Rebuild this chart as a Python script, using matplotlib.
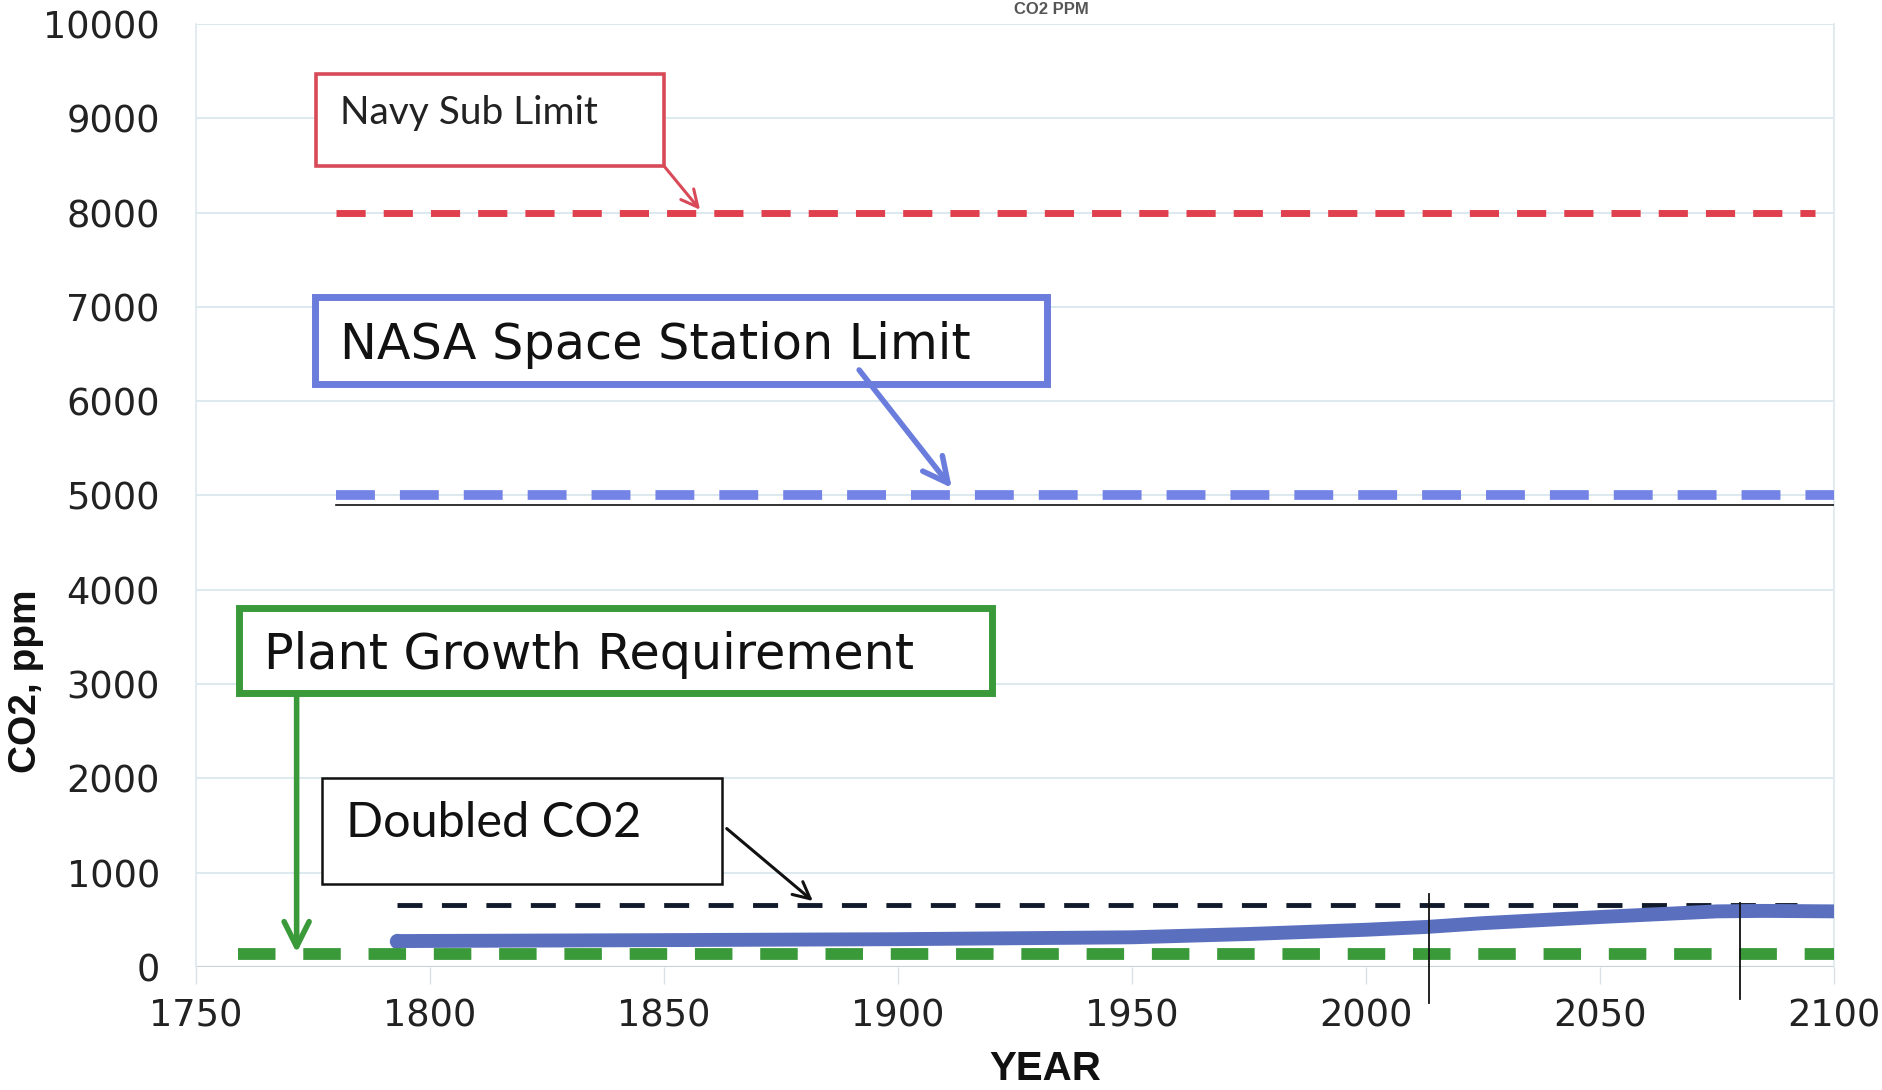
import matplotlib
matplotlib.use("Agg")
import matplotlib.pyplot as plt
from matplotlib.patches import Rectangle

plt.rcParams['lines.scale_dashes'] = False

# ---- data ----
years_co2 = [1793, 1850, 1900, 1925, 1950, 1975, 2000, 2013, 2025, 2050, 2075, 2085, 2100]
co2_ppm = [275, 285, 295, 305, 315, 350, 395, 425, 465, 530, 590, 595, 590]

navy_limit = 8000
navy_span = [1780, 2096]
nasa_limit = 5000
nasa_span = [1780, 2100]
nasa_thin = 4900
plant_req = 140
plant_span = [1759, 2100]
doubled = 660
doubled_span = [1793, 2092]
marker_years = [2013.5, 2080]

x_ticks = [1750, 1800, 1850, 1900, 1950, 2000, 2050, 2100]
y_ticks = [0, 1000, 2000, 3000, 4000, 5000, 6000, 7000, 8000, 9000, 10000]

W, H = 1883, 1090
fig = plt.figure(figsize=(W / 100, H / 100), dpi=100)
ax = fig.add_axes([196 / W, 1 - 967 / H, (1834 - 196) / W, (967 - 24) / H])
ax.set_xlim(1750, 2100)
ax.set_ylim(0, 10000)

grid_c = '#d6e6ec'
for v in y_ticks[1:]:
    ax.axhline(v, color=grid_c, lw=1.2, zorder=0)
ax.axhline(0, color='#c8d0d4', lw=1.5, zorder=0)
for s in ['top', 'bottom']:
    ax.spines[s].set_visible(False)
for s in ['left', 'right']:
    ax.spines[s].set_color('#dde9ee')
    ax.spines[s].set_linewidth(1.2)

ax.set_xticks(x_ticks)
ax.set_yticks(y_ticks)
ax.tick_params(axis='y', length=0, pad=26, labelsize=26.5, labelcolor='#222222')
ax.tick_params(axis='x', length=12, width=1, color='#d8e2e6', pad=10, labelsize=26.5, labelcolor='#222222')
for lab in ax.get_xticklabels() + ax.get_yticklabels():
    lab.set_family('DejaVu Sans')

# ---- lines ----
ax.plot(navy_span, [navy_limit] * 2, color='#e0404e', lw=5, dashes=(21, 13), dash_capstyle='butt', zorder=3)
ax.plot(nasa_span, [nasa_thin] * 2, color='#111111', lw=1.2, zorder=3)
ax.plot(nasa_span, [nasa_limit] * 2, color='#7483e6', lw=7, dashes=(28, 18), dash_capstyle='butt', zorder=3)
ax.plot(doubled_span, [doubled] * 2, color='#111a2a', lw=3.5, dashes=(18, 14), dash_capstyle='butt', zorder=3)
ax.plot(years_co2, co2_ppm, color='#5a70bf', lw=10, solid_capstyle='butt', zorder=4)
ax.plot(years_co2[:1], co2_ppm[:1], 'o', color='#5a70bf', ms=10, zorder=4)
ax.plot(plant_span, [plant_req] * 2, color='#3a9a3a', lw=8.5, dashes=(27, 20), dash_capstyle='butt', zorder=5)
for my, y0, y1 in zip(marker_years, [770, 680], [-380, -340]):
    ax.plot([my, my], [y0, y1], color='#111111', lw=1.3, clip_on=False, zorder=6)

# ---- annotation boxes ----
def box(x0, x1, y0, y1, ec, lw):
    ax.add_patch(Rectangle((x0, y0), x1 - x0, y1 - y0, fill=True, fc='white', ec=ec, lw=lw, zorder=7))

def arrow(xy_from, xy_to, color, lw, hw):
    ax.annotate('', xy=xy_to, xytext=xy_from,
                arrowprops=dict(arrowstyle='->', color=color, lw=lw,
                                mutation_scale=hw, shrinkA=0, shrinkB=0),
                zorder=8)

box(1775.6, 1850.0, 8494, 9470, '#d84a58', 2.6)
ax.text(1780.8, 9060, 'Navy Sub Limit', family='Lato', fontsize=28, va='center', ha='left', color='#222222', zorder=9)
arrow((1850.0, 8494), (1857.7, 8030), '#d84a58', 2.2, 30)

box(1775.4, 1931.8, 6182, 7105, '#6a7ddc', 5)
ax.text(1780.8, 6600, 'NASA Space Station Limit', family='DejaVu Sans', fontsize=35.5, va='center', ha='left', color='#111111', zorder=9)
arrow((1891.7, 6331), (1911.5, 5080), '#6a7ddc', 4, 45)

box(1759.2, 1920.1, 2906, 3807, '#3a9a3a', 5)
ax.text(1764.5, 3310, 'Plant Growth Requirement', family='DejaVu Sans', fontsize=35.5, va='center', ha='left', color='#111111', zorder=9)
arrow((1771.5, 2906), (1771.5, 150), '#3a9a3a', 4, 45)

box(1776.9, 1862.4, 880, 2004, '#111111', 1.8)
ax.text(1782.0, 1530, 'Doubled CO2', family='Lato', fontsize=35, va='center', ha='left', color='#111111', zorder=9)
arrow((1863.4, 1468), (1881.8, 700), '#111111', 2.2, 30)

# ---- labels ----
fig.text(1045 / W, 1 - 1069 / H, 'YEAR', family='Liberation Sans', fontweight='bold', fontsize=29,
         ha='center', va='center', color='#111111')
fig.text(26 / W, 1 - 681 / H, 'CO2, ppm', family='Liberation Sans', fontweight='bold', fontsize=28,
         ha='center', va='center', rotation=90, color='#111111')
fig.text(1051 / W, 1 - 2 / H, 'CO2 PPM', family='Liberation Sans', fontweight='bold', fontsize=12,
         ha='center', va='top', color='#555555')

fig.savefig('out.png', dpi=100, facecolor='white')
